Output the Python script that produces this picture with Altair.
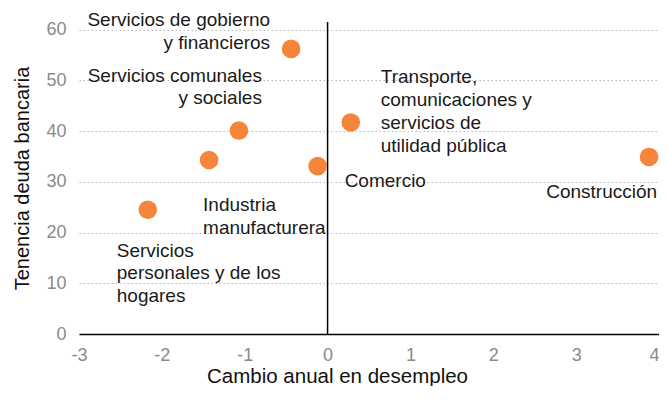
import altair as alt
import pandas as pd

# ---- data ----
sectors = [
    "Servicios de gobierno\ny financieros",
    "Servicios comunales\ny sociales",
    "Industria\nmanufacturera",
    "Comercio",
    "Transporte,\ncomunicaciones y\nservicios de\nutilidad pública",
    "Construcción",
    "Servicios\npersonales y de los\nhogares",
]
cambio_desempleo = [-0.44, -1.07, -1.43, -0.12, 0.28, 3.88, -2.17]
tenencia_deuda = [56.2, 40.1, 34.3, 33.1, 41.7, 34.9, 24.5]
x_ticks = [-3, -2, -1, 0, 1, 2, 3, 4]
y_ticks = [0, 10, 20, 30, 40, 50, 60]

# ---- label placement (pixel offsets from each point) ----
label_style = [
    {"dx": -21, "dy": -38, "align": "right"},
    {"dx": 23, "dy": -64, "align": "right"},
    {"dx": -6, "dy": 36, "align": "left"},
    {"dx": 27, "dy": 6, "align": "left"},
    {"dx": 30, "dy": -54, "align": "left"},
    {"dx": 8, "dy": 26, "align": "right"},
    {"dx": -31, "dy": 32, "align": "left"},
]

FONT = "Liberation Sans"
ORANGE = "#F5853A"

df = pd.DataFrame({"x": cambio_desempleo, "y": tenencia_deuda, "label": sectors})

x_scale = alt.Scale(domain=[-3, 4], nice=False, zero=False)
y_scale = alt.Scale(domain=[0, 61.5], nice=False, zero=False)

x_axis = alt.Axis(
    values=x_ticks,
    labelExpr="'' + datum.value",
    labelAlign={"condition": {"test": "datum.value == 4", "value": "right"}, "value": "center"},
    grid=False,
    ticks=False,
    domain=True,
    domainColor="#000000",
    domainWidth=1.5,
    labelColor="#8a8a8a",
    labelFontSize=18,
    labelFont=FONT,
    labelPadding=12,
    title="Cambio anual en desempleo",
    titleFont=FONT,
    titleFontSize=20.5,
    titleFontWeight="normal",
    titleColor="#111111",
    titlePadding=2,
    titleX=258,
    titleAlign="center",
)
y_axis = alt.Axis(
    values=y_ticks,
    grid=True,
    gridDash=[1.5, 2.5],
    gridColor="#b5b5b5",
    gridWidth=1,
    ticks=False,
    domain=False,
    labelColor="#8a8a8a",
    labelFontSize=18,
    labelFont=FONT,
    labelPadding=13,
    title="Tenencia deuda bancaria",
    titleFont=FONT,
    titleFontSize=20,
    titleFontWeight="normal",
    titleColor="#111111",
    titlePadding=13,
)

points = alt.Chart(df).mark_circle(size=346, color=ORANGE, opacity=1).encode(
    x=alt.X("x:Q", scale=x_scale, axis=x_axis),
    y=alt.Y("y:Q", scale=y_scale, axis=y_axis),
)

zero_rule = alt.Chart(pd.DataFrame({"x": [0]})).mark_rule(
    color="#000000", strokeWidth=1.5
).encode(x=alt.X("x:Q", scale=x_scale))

layers = [zero_rule, points]
for i, st in enumerate(label_style):
    layers.append(
        alt.Chart(df.iloc[[i]]).mark_text(
            align=st["align"],
            baseline="top",
            dx=st["dx"],
            dy=st["dy"],
            lineBreak="\n",
            lineHeight=22.7,
            fontSize=19,
            font=FONT,
            color="#1a1a1a",
        ).encode(x="x:Q", y="y:Q", text="label:N")
    )

chart = alt.layer(*layers).properties(
    width=580,
    height=312,
    padding={"left": 71, "top": 14, "right": 0, "bottom": 52},
    autosize=alt.AutoSizeParams(type="none"),
).configure_view(stroke=None)

chart.save("out.html", embed_options={"renderer": "svg", "actions": False})
